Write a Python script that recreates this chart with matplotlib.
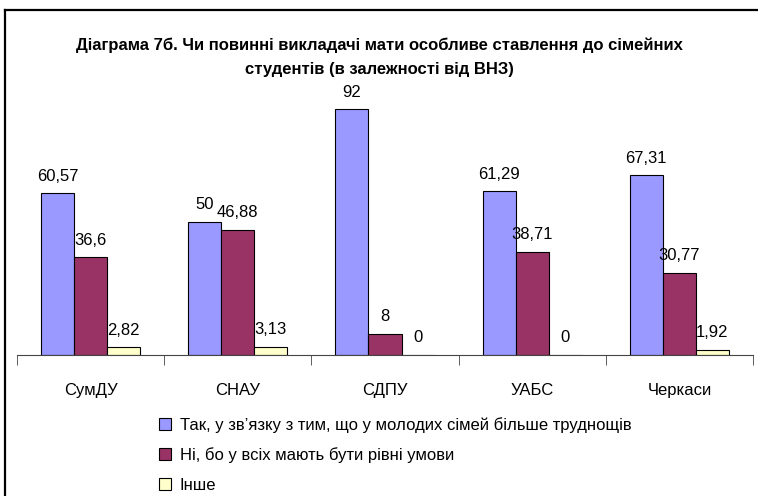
import numpy as np
import matplotlib.pyplot as plt
from matplotlib.lines import Line2D

plt.rcParams['font.family'] = ['Liberation Sans Narrow', 'Liberation Sans', 'DejaVu Sans']

# Data
universities = ["СумДУ", "СНАУ", "СДПУ", "УАБС", "Черкаси"]
yes_values = [60.57, 50, 92, 61.29, 67.31]
no_values = [36.6, 46.88, 8, 38.71, 30.77]
other_values = [2.82, 3.13, 0, 0, 1.92]
series_names = [
    "Так, у зв’язку з тим, що у молодих сімей більше труднощів",
    "Ні, бо у всіх мають бути рівні умови",
    "Інше",
]
colors = ["#9999FF", "#993366", "#FFFFCC"]

title = ("Діаграма 7б. Чи повинні викладачі мати особливе ставлення до сімейних\n"
         "студентів (в залежності від ВНЗ)")

fig = plt.figure(figsize=(7.58, 4.96), dpi=100)

# outer frame (left and top edges visible)
fig.add_artist(Line2D([4.5 / 758, 4.5 / 758], [0, 1 - 9.5 / 496], color="black", lw=1.6,
                      transform=fig.transFigure))
fig.add_artist(Line2D([4.5 / 758, 1], [1 - 9.5 / 496, 1 - 9.5 / 496], color="black", lw=1.6,
                      transform=fig.transFigure))

ax = fig.add_axes([17 / 758, (496 - 355) / 496, 736 / 758, 267 / 496])

x = np.arange(len(universities))
w = 0.2245
series = [yes_values, no_values, other_values]
for i, (vals, col, name) in enumerate(zip(series, colors, series_names)):
    pos = x + (i - 1) * w
    ax.bar(pos, vals, width=w, color=col, edgecolor="black", linewidth=0.8, label=name)
    for p, v in zip(pos, vals):
        ax.annotate(f"{v:g}".replace(".", ","), (p, v), xytext=(0, 7),
                    textcoords="offset points", ha="center", va="bottom", fontsize=12)

ax.set_xlim(-0.5, len(universities) - 0.5)
ax.set_ylim(0, 100)
ax.set_yticks([])
for s in ["left", "right", "top"]:
    ax.spines[s].set_visible(False)
ax.spines["bottom"].set_color("#444444")

ax.set_xticks(x)
ax.set_xticklabels(universities, fontsize=12)
ax.tick_params(axis="x", which="major", length=0, pad=20)
ax.set_xticks(np.arange(len(universities) + 1) - 0.5, minor=True)
ax.tick_params(axis="x", which="minor", length=7, direction="out", color="#444444")

fig.text(0.5, 1 - 57 / 496, title, ha="center", va="center", fontsize=12,
         fontweight="bold", linespacing=1.75)

handles, labels = ax.get_legend_handles_labels()
fig.legend(handles, labels, loc="upper left", bbox_to_anchor=(152 / 758, 1 - 410 / 496),
           frameon=False, fontsize=12, handlelength=0.75, handleheight=0.75,
           handletextpad=0.5, labelspacing=0.88, borderaxespad=0)

plt.savefig("out.png", dpi=100)
